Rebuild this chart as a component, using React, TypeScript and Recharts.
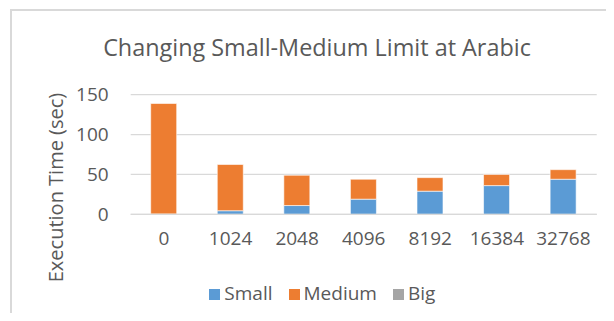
import React from 'react';
import { BarChart, Bar, XAxis, YAxis, CartesianGrid, Legend } from 'recharts';

const limits = ['0', '1024', '2048', '4096', '8192', '16384', '32768'];
const seriesNames = ['Small', 'Medium', 'Big'];
const small = [0.5, 4.5, 11, 19, 29, 36, 44];
const medium = [138.5, 58, 38, 25, 17, 14, 12];
const big = [0, 0, 0, 0, 0, 0, 0];
const yTicks = [0, 50, 100, 150];

const data = limits.map((name, i) => ({ name, Small: small[i], Medium: medium[i], Big: big[i] }));

const FONT = '"Open Sans", sans-serif';
const TEXT = '#595959';

function YLabel(props: any) {
  const vb = props.viewBox;
  const x = vb.x + 48;
  const y = vb.y + vb.height / 2 + 33;
  return (
    <text x={x} y={y} transform={`rotate(-90, ${x}, ${y})`} textAnchor='middle' dominantBaseline='central'
      fill={TEXT} fontSize={20} fontFamily={FONT}>
      Execution Time (sec)
    </text>
  );
}

export default function App() {
  return (
    <div style={{ position: 'relative', width: 606, height: 305, fontFamily: FONT }}>
      <div style={{ position: 'absolute', left: 2, top: 1, right: 0, bottom: 0, borderTop: '2px solid #d9d9d9', borderLeft: '2px solid #d9d9d9' }} />
      <div style={{ position: 'absolute', left: 0, width: 618, top: 28, textAlign: 'center', fontSize: 23.4, lineHeight: '23px', color: TEXT }}>
        Changing Small-Medium Limit at Arabic
      </div>
      <BarChart width={606} height={305} data={data} margin={{ top: 86.7, right: 17.3, left: 0, bottom: 0 }}>
        <CartesianGrid vertical={false} stroke='#d9d9d9' strokeWidth={1.2} />
        <XAxis dataKey='name' height={40} tickLine={false} axisLine={{ stroke: '#d9d9d9', strokeWidth: 1.2 }}
          tickSize={0} tickMargin={17} tick={{ fill: TEXT, fontSize: 19, fontFamily: FONT }} />
        <YAxis width={122.7} domain={[0, 150]} ticks={yTicks} axisLine={false} tickLine={false} tickSize={0}
          tickMargin={22} tick={{ fill: TEXT, fontSize: 19, fontFamily: FONT }} label={<YLabel />} />
        <Legend height={58.7} iconType='square' iconSize={11}
          itemSorter={(item: any) => seriesNames.indexOf(item.value)}
          wrapperStyle={{ top: 272, left: 28, bottom: 'auto', fontSize: 19, fontFamily: FONT, color: TEXT }}
          formatter={(v: string) => <span style={{ color: TEXT, marginRight: 6 }}>{v}</span>} />
        <Bar dataKey='Small' stackId='a' fill='#5b9bd5' stroke='#ffffff' strokeWidth={0.6} barSize={26} isAnimationActive={false} />
        <Bar dataKey='Medium' stackId='a' fill='#ed7d31' stroke='#ffffff' strokeWidth={0.6} barSize={26} isAnimationActive={false} />
        <Bar dataKey='Big' stackId='a' fill='#a5a5a5' stroke='#ffffff' strokeWidth={0.6} barSize={26} isAnimationActive={false} />
      </BarChart>
    </div>
  );
}
